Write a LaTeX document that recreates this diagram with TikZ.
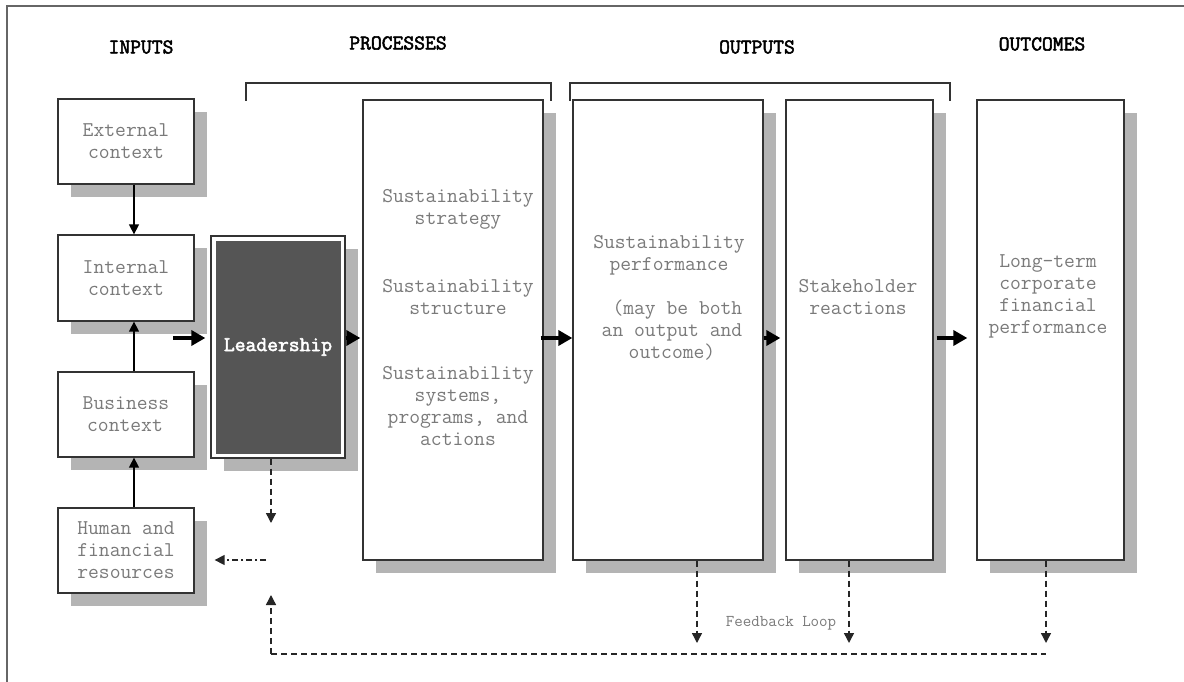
\documentclass[tikz,border=0pt]{standalone}
\usepackage{fontspec}
\newfontfamily\hdrfont{Latin Modern Mono}[AutoFakeBold=2.5]
\usetikzlibrary{arrows.meta}
\definecolor{shade}{HTML}{B4B4B4}
\definecolor{txt}{HTML}{7A7A7A}
\definecolor{edge}{HTML}{333333}
\definecolor{darkfill}{HTML}{555555}
\definecolor{framecol}{HTML}{666666}
\begin{document}
\begin{tikzpicture}[x=1pt,y=-1pt,
  box/.style={draw=edge, line width=1.3pt, fill=white, inner sep=0pt,
    font=\ttfamily\fontsize{21}{22}\selectfont, text=txt, align=center,
    preaction={fill=shade, draw=none, transform canvas={xshift=13pt,yshift=-13pt}}},
  lbl/.style={font=\ttfamily\fontsize{21}{22}\selectfont, text=txt, align=center, inner sep=0pt},
  hdr/.style={font=\hdrfont\bfseries\fontsize{21}{22}\selectfont, text=black, inner sep=0pt},
  brk/.style={draw=edge, line width=1.4pt},
  thinarrow/.style={draw=black, line width=1.5pt, -{Triangle[length=10pt,width=10pt]}},
  thickarrow/.style={draw=black, line width=4pt, -{Triangle[length=14pt,width=15pt]}},
  dsh/.style={draw=black!85, line width=1.4pt, dash pattern=on 6pt off 4pt},
  dsharrow/.style={dsh, -{Triangle[length=10pt,width=10pt]}},
  dshdot/.style={draw=black!85, line width=1.4pt, dash pattern=on 6pt off 3pt on 2pt off 3pt, -{Triangle[length=10pt,width=10pt]}}
]
\useasboundingbox (0,0) rectangle (1184,682);
\fill[white] (0,0) rectangle (1184,682);
\draw[framecol, line width=1.5pt] (7,682) -- (7,6) -- (1184,6);

% headers
\node[hdr] (hin) at (141,47) {INPUTS};
\node[hdr] (hpr) at (398,43) {PROCESSES};
\node[hdr] (hou) at (757,47) {OUTPUTS};
\node[hdr] (hoc) at (1042,44) {OUTCOMES};

% brackets
\draw[brk] (246,101) -- (246,83) -- (551,83) -- (551,101);
\draw[brk] (570,101) -- (570,83) -- (950,83) -- (950,101);

% input boxes
\node[box, minimum width=136pt, minimum height=85pt] (ext) at (126,141.5) {External\\context};
\node[box, minimum width=136pt, minimum height=86pt] (int) at (126,278) {Internal\\context};
\node[box, minimum width=136pt, minimum height=85pt] (bus) at (126,414.5) {Business\\context\hspace*{2pt}};
\node[box, minimum width=136pt, minimum height=85pt] (hum) at (126,550.5) {Human and\\financial\\resources};

% leadership
\node[box, minimum width=134pt, minimum height=222pt] (lead) at (278,347) {};
\node[fill=darkfill, minimum width=125pt, minimum height=213pt, inner sep=0pt,
      text=white, font=\hdrfont\bfseries\fontsize{21}{22}\selectfont] (leadin) at (lead.center) {Leadership};

% large boxes
\node[box, minimum width=180pt, minimum height=460pt] (proc) at (453,330) {};
\node[box, minimum width=190pt, minimum height=460pt] (perf) at (668,330) {};
\node[box, minimum width=147pt, minimum height=460pt] (stake) at (859.5,330) {};
\node[box, minimum width=147pt, minimum height=460pt] (long) at (1050.5,330) {};

% texts in large boxes
\node[lbl] (t1) at (458,209) {Sustainability\\strategy};
\node[lbl] (t2) at (458,297.5) {Sustainability\\structure};
\node[lbl] (t3) at (458,406) {Sustainability\\systems,\\programs, and\\actions};
\node[lbl] (t4) at (669,255) {Sustainability\\performance};
\node[lbl] (t5) at (672,330) {\hphantom{x}(may be both\\an output and\\outcome)};
\node[lbl] (t6) at (858,297) {Stakeholder\\reactions};
\node[lbl] (t7) at (1048,296) {Long-term\\corporate\\financial\\performance};

% solid vertical arrows
\draw[thinarrow] ([xshift=8pt]ext.south) -- ([xshift=8pt]int.north);
\draw[thinarrow] ([xshift=8pt]bus.north) -- ([xshift=8pt]int.south);
\draw[thinarrow] ([xshift=8pt]hum.north) -- ([xshift=8pt]bus.south);

% thick horizontal arrows
\coordinate (inA) at (173,338);
\draw[thickarrow, shorten >=5pt] (inA) -- (inA -| lead.west);
\draw[thickarrow, shorten >=2pt] (inA -| lead.east) -- (inA -| proc.west);
\draw[thickarrow, shorten <=-3pt] (inA -| proc.east) -- (inA -| perf.west);
\draw[thickarrow, shorten >=5pt] (inA -| perf.east) -- (inA -| stake.west);
\draw[thickarrow, shorten <=3pt, shorten >=9pt] (inA -| stake.east) -- (inA -| long.west);

% dashed connectors
\coordinate (ld) at ([xshift=-7pt]lead.south);
\coordinate (ldE) at (271,523);
\draw[dsharrow] (ld) -- (ldE);
\coordinate (dc) at (266,560);
\draw[dshdot, shorten >=20pt] (dc) -- (dc -| hum.east);
\coordinate (fbL) at (271,654);
\coordinate (fbR) at (1046,654);
\coordinate (fbU) at (271,595);
\draw[dsh] (fbL) -- (fbR);
\draw[dsharrow] (fbL) -- (fbU);
\coordinate (p1) at ([xshift=29pt]perf.south);
\coordinate (p2) at ([xshift=-10.5pt]stake.south);
\coordinate (p3) at ([xshift=-4.5pt]long.south);
\draw[dsharrow, shorten >=11pt] (p1) -- (p1 |- fbL);
\draw[dsharrow, shorten >=11pt] (p2) -- (p2 |- fbL);
\draw[dsharrow, shorten >=11pt] (p3) -- (p3 |- fbL);

\node[font=\ttfamily\fontsize{16.5}{18}\selectfont, text=txt, inner sep=0pt] (fbl) at (781,623) {Feedback Loop};
\end{tikzpicture}
\end{document}
